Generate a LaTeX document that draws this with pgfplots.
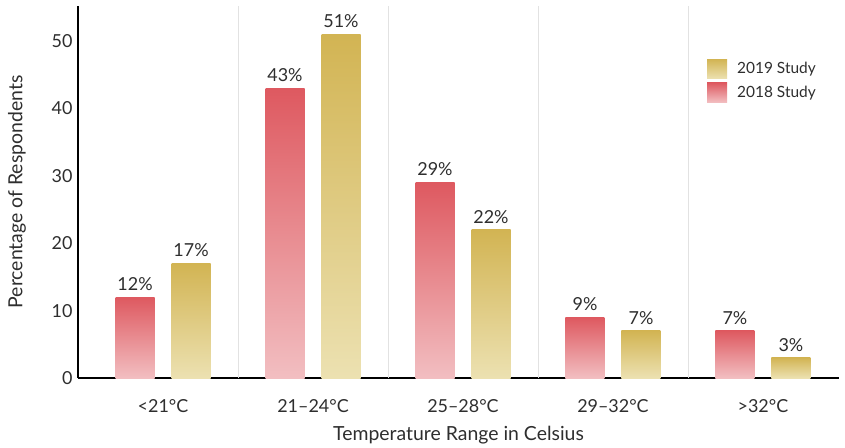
\documentclass[border=0pt]{standalone}
\usepackage{pgfplots}
\pgfplotsset{compat=1.18}
\usepackage{fontspec}
\setmainfont{Lato}

\definecolor{redtop}{HTML}{DE5960}
\definecolor{redbot}{HTML}{F2BEC1}
\definecolor{goldtop}{HTML}{D2B453}
\definecolor{goldbot}{HTML}{ECE1B1}
\definecolor{txt}{HTML}{2E2E2E}
\definecolor{sep}{HTML}{E2E2E2}

% each bar is its own plot so that its gradient runs over its own height
\pgfplotsset{
  redbar/.style={draw=none, top color=redtop, bottom color=redbot, bar shift=-28bp, forget plot},
  goldbar/.style={draw=none, top color=goldtop, bottom color=goldbot, bar shift=28bp, forget plot},
}

\begin{document}
\begin{tikzpicture}
\begin{axis}[
  scale only axis,
  width=761bp, height=372bp,
  xmin=-0.567, xmax=4.507,
  ymin=0, ymax=55.2,
  axis lines=left,
  axis line style={-, line width=1.8bp, black},
  xtick={0,1,2,3,4},
  xticklabels={<21°C, 21–24°C, 25–28°C, 29–32°C, >32°C},
  ytick={0,10,20,30,40,50},
  major tick length=0pt,
  extra x ticks={0.5,1.5,2.5,3.5},
  extra x tick labels={},
  extra x tick style={grid=major, major grid style={sep, line width=0.8bp}},
  tick label style={font=\fontsize{18}{21}\selectfont, text=txt},
  /pgf/number format/assume math mode=true,
  xticklabel style={yshift=-18bp},
  yticklabel style={xshift=-2bp},
  xlabel={Temperature Range in Celsius},
  ylabel={Percentage of Respondents},
  label style={font=\fontsize{19.5}{23}\selectfont, text=txt},
  xlabel style={at={(rel axis cs:0.5,0)}, anchor=center, yshift=-57bp},
  ylabel style={at={(rel axis cs:0,0.5)}, anchor=center, rotate=0, yshift=61bp},
  ybar,
  bar width=39bp,
  nodes near coords={\pgfmathprintnumber{\pgfplotspointmeta}\%},
  every node near coord/.append style={font=\fontsize{18}{21}\selectfont, text=txt, yshift=3bp},
  legend style={at={(rel axis cs:0.8226,0.863)}, anchor=north west, draw=none, fill=none,
    font=\fontsize{15.5}{18}\selectfont, text=txt, row sep=4bp,
    /tikz/every odd column/.append style={column sep=8bp}},
  legend image code/.code={\fill[#1] (0bp,-9.8bp) rectangle (20bp,9.8bp);},
  legend cell align=left,
]
% 2018 Study
\addplot[redbar] coordinates {(0,12)};
\addplot[redbar] coordinates {(1,43)};
\addplot[redbar] coordinates {(2,29)};
\addplot[redbar] coordinates {(3,9)};
\addplot[redbar] coordinates {(4,7)};
% 2019 Study
\addplot[goldbar] coordinates {(0,17)};
\addplot[goldbar] coordinates {(1,51)};
\addplot[goldbar] coordinates {(2,22)};
\addplot[goldbar] coordinates {(3,7)};
\addplot[goldbar] coordinates {(4,3)};

\addlegendimage{draw=none, top color=goldtop, bottom color=goldbot}
\addlegendentry{2019 Study}
\addlegendimage{draw=none, top color=redtop, bottom color=redbot}
\addlegendentry{2018 Study}
\coordinate (O) at (rel axis cs:0,0);
\end{axis}
\pgfresetboundingbox
\path[use as bounding box] ([shift={(-78bp,-70bp)}]O) rectangle ++(845bp,448bp);
\end{tikzpicture}
\end{document}
